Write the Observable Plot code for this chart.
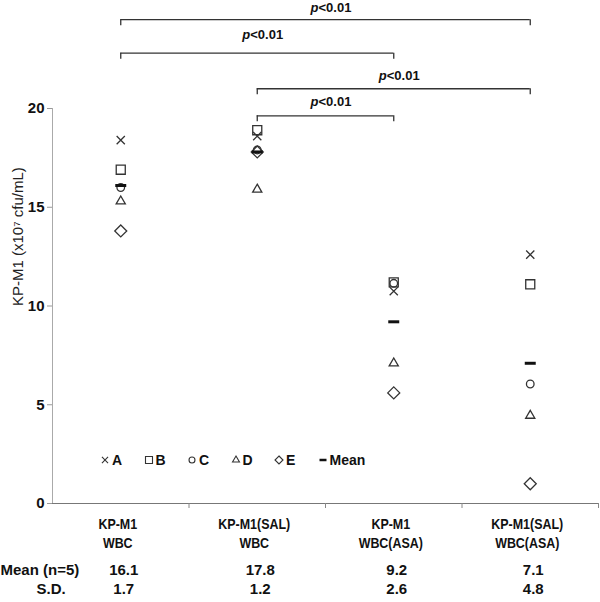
<!DOCTYPE html>
<html><head><meta charset="utf-8">
<script src="https://cdn.jsdelivr.net/npm/d3@7"></script>
<script src="https://cdn.jsdelivr.net/npm/@observablehq/plot@0.6"></script>
<style>
body{margin:0;background:#fff;}
#wrap{position:relative;width:600px;height:602px;}
#legend{position:absolute;left:100px;top:452px;display:flex;align-items:center;font:bold 14px "Liberation Sans",Arial,sans-serif;color:#111;line-height:16px;}
#legend .item{display:flex;align-items:center;width:43.5px;}
#legend .item svg{margin-right:2px;overflow:visible}
</style></head><body><div id="wrap"></div>
<script>
// ---- data ----
const groups = ["KP-M1\nWBC", "KP-M1(SAL)\nWBC", "KP-M1\nWBC(ASA)", "KP-M1(SAL)\nWBC(ASA)"];
const subjects = ["A", "B", "C", "D", "E"];
const valuesA = [18.4, 18.6, 10.75, 12.6];
const valuesB = [16.9, 18.9, 11.2, 11.1];
const valuesC = [16.0, 17.9, 11.15, 6.05];
const valuesD = [15.3, 15.9, 7.1, 4.45];
const valuesE = [13.8, 17.8, 5.6, 1.0];
const means = [16.1, 17.8, 9.2, 7.1];
const sds = [1.7, 1.2, 2.6, 4.8];
const yTicks = [0, 5, 10, 15, 20];
const yLabel = "KP-M1 (x10\u2077 cfu/mL)";
const meanRowLabel = "Mean (n=5)";
const sdRowLabel = "S.D.";
const compFrom = [0, 0, 1, 1];
const compTo = [3, 2, 3, 2];
const compP = ["<0.01", "<0.01", "<0.01", "<0.01"];
const bracketLevel = [24.5, 22.8, 21.0, 19.63];
const bracketLabelLevel = [25.1, 23.75, 21.65, 20.32];

// ---- build tables ----
const seriesValues = {A: valuesA, B: valuesB, C: valuesC, D: valuesD, E: valuesE};
const points = subjects.flatMap(s => seriesValues[s].map((v, i) => ({s, i, v})));
const meanRows = means.map((m, i) => ({i, m, sd: sds[i]}));
const brackets = compFrom.map((a, k) => ({a, b: compTo[k], level: bracketLevel[k], labelLevel: bracketLabelLevel[k], p: compP[k]}));
const bracketEnds = brackets.flatMap(d => [{x: d.a, level: d.level}, {x: d.b, level: d.level}]);
const boundaries = groups.map((g, i) => i + 0.5);

const symbolOf = {A: "times", B: "square", C: "circle", D: "triangle", E: "diamond2"};
const rOf = {A: 3.8, B: 5.1, C: 3.8, D: 3.4, E: 5.4};
const dash = {draw(ctx, size) { const w = Math.sqrt(size) / 2; ctx.moveTo(-w, 0); ctx.lineTo(w, 0); }};
const ink = "#333";
const font = "Liberation Sans, Arial, sans-serif";

const chart = Plot.plot({
  width: 600, height: 602,
  marginTop: 108, marginBottom: 99, marginLeft: 52, marginRight: 2,
  x: {domain: [-0.5, groups.length - 0.5], axis: null},
  y: {domain: [0, 20], axis: null},
  style: {fontFamily: font, color: "#111", background: "white", fontSize: "15px"},
  marks: [
    Plot.frame({anchor: "left", stroke: "#aaa"}),
    Plot.frame({anchor: "bottom", stroke: "#777"}),
    Plot.ruleX(boundaries, {y1: 0, y2: 0, insetBottom: -5, stroke: "#888"}),
    Plot.axisY(yTicks, {tickSize: 5, tickPadding: 3, fontSize: 15, fontWeight: "bold", stroke: "#999", label: null}),
    Plot.text([yLabel], {frameAnchor: "left", rotate: -90, dx: -34, fontSize: 15, fill: "#222"}),
    // category labels
    Plot.text(groups, {x: (d, i) => i, text: d => d, frameAnchor: "bottom", lineAnchor: "top", dy: 12, dx: -3, lineHeight: 1.27, fontSize: 15, fontWeight: "bold", className: "catlabel"}),
    // mean / sd table
    Plot.text([meanRowLabel], {frameAnchor: "bottom-left", textAnchor: "start", dx: -52, dy: 71, fontSize: 15, fontWeight: "bold"}),
    Plot.text([sdRowLabel], {frameAnchor: "bottom-left", textAnchor: "start", dx: -16, dy: 90, fontSize: 15, fontWeight: "bold"}),
    Plot.text(meanRows, {x: "i", text: d => d.m.toFixed(1), frameAnchor: "bottom", dy: 71, dx: 3, fontSize: 15, fontWeight: "bold"}),
    Plot.text(meanRows, {x: "i", text: d => d.sd.toFixed(1), frameAnchor: "bottom", dy: 90, dx: 3, fontSize: 15, fontWeight: "bold"}),
    // brackets
    Plot.ruleY(brackets, {x1: "a", x2: "b", y: "level", stroke: ink, strokeWidth: 1.3}),
    Plot.ruleX(bracketEnds, {x: "x", y1: "level", y2: "level", insetBottom: -6, stroke: ink, strokeWidth: 1.3}),
    Plot.text(brackets, {x: d => (d.a + d.b) / 2, y: "labelLevel", text: () => "p", textAnchor: "end", dx: -7, fontSize: 13, fontWeight: "bold", fontStyle: "italic"}),
    Plot.text(brackets, {x: d => (d.a + d.b) / 2, y: "labelLevel", text: "p", textAnchor: "start", dx: -7, fontSize: 13, fontWeight: "bold"}),
    // data points
    ...subjects.map(s => Plot.dot(points.filter(d => d.s === s), {x: "i", y: "v", symbol: symbolOf[s], r: rOf[s], stroke: ink, fill: "none", strokeWidth: 1.3})),
    Plot.dot(meanRows, {x: "i", y: "m", symbol: dash, r: 6.2, stroke: "#111", fill: "none", strokeWidth: 3})
  ]
});

// condense the category labels horizontally (the original uses a narrow face)
d3.select(chart).selectAll("g.catlabel text").each(function() {
  const t = this.getAttribute("transform") || "";
  this.setAttribute("transform", t + " scale(0.83,1)");
});

const wrap = d3.select("#wrap");
wrap.node().append(chart);

// legend
const legendKeys = [...subjects, "Mean"];
const legendSym = {A: [d3.symbolTimes, 26], B: [d3.symbolSquare, 49], C: [d3.symbolCircle, 28], D: [d3.symbolTriangle, 21], E: [d3.symbolDiamond2, 41]};
const legend = wrap.append("div").attr("id", "legend");
const items = legend.selectAll(".item").data(legendKeys).join("div").attr("class", "item");
items.append("svg").attr("width", 10).attr("height", 10)
  .append("path").attr("transform", "translate(5,5)")
  .attr("d", d => d === "Mean" ? "M-3.5,0H3.5" : d3.symbol(legendSym[d][0], legendSym[d][1])())
  .attr("fill", "none").attr("stroke", d => d === "Mean" ? "#111" : ink)
  .attr("stroke-width", d => d === "Mean" ? 2.5 : 1.1);
items.append("span").text(d => d);
</script>
</body></html>
